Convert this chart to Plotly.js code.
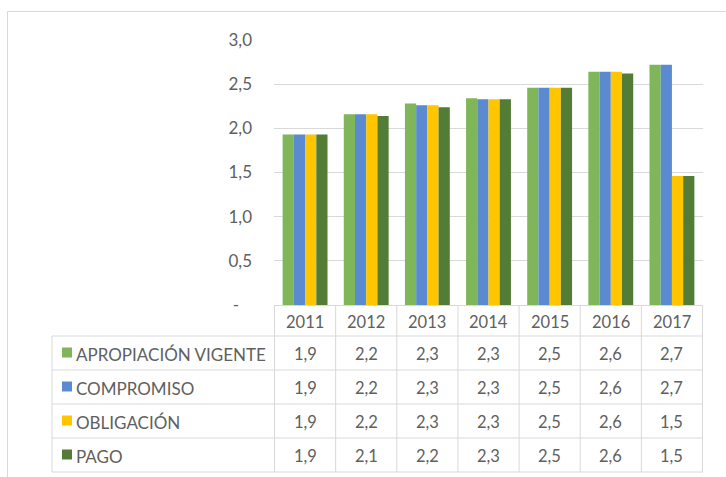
<!DOCTYPE html>
<html><head><meta charset="utf-8">
<script src="https://cdn.plot.ly/plotly-3.0.1.min.js"></script>
<style>html,body{margin:0;padding:0;background:#fff;} #chart{width:726px;height:477px;}</style>
</head><body><div id="chart"></div>
<script>
const years = ['2011','2012','2013','2014','2015','2016','2017'];
const seriesNames = ['APROPIACIÓN VIGENTE','COMPROMISO','OBLIGACIÓN','PAGO'];
const apropiacion = [1.93,2.16,2.28,2.34,2.46,2.64,2.72];
const compromiso  = [1.93,2.16,2.26,2.33,2.46,2.64,2.72];
const obligacion  = [1.93,2.16,2.26,2.33,2.46,2.64,1.46];
const pago        = [1.93,2.14,2.24,2.33,2.46,2.62,1.46];
const yTickVals = [0,0.5,1,1.5,2,2.5,3];
const yTickText = ['-\u00a0\u00a0\u00a0','0,5','1,0','1,5','2,0','2,5','3,0'];

const seriesValues = [apropiacion, compromiso, obligacion, pago];
const colors = ['#7FB65A','#5A8AD0','#FFC600','#537C36'];
const FONT = 'Lato, Carlito, "Open Sans", sans-serif';
const TXT = '#606060';
const GRID = '#D9D9D9';

const W = 726, H = 477, L = 274, R = 703, T = 40, B = 305;
const px2x = px => (px - L) / (R - L);
const py2y = py => (B - py) / (B - T);

const traces = seriesValues.map((vals, i) => ({
  type: 'bar', x: years, y: vals, name: seriesNames[i],
  marker: {color: colors[i], line: {width: 0}},
  hoverinfo: 'none'
}));

// table geometry
const tableLeft = 52, headerTop = B, headerBottom = 336, rowH = 34;
const rowTops = seriesNames.map((_, i) => headerBottom + i * rowH);
const tableBottom = headerBottom + seriesNames.length * rowH;

const shapes = [];
const lineStyle = {color: GRID, width: 1};
// outer chart border (left and top)
shapes.push({type: 'line', xref: 'paper', yref: 'paper', x0: px2x(7.5), x1: px2x(7.5), y0: py2y(11.5), y1: py2y(H + 5), line: lineStyle});
shapes.push({type: 'line', xref: 'paper', yref: 'paper', x0: px2x(7.5), x1: px2x(W + 5), y0: py2y(11.5), y1: py2y(11.5), line: lineStyle});
// vertical lines for year columns
for (let i = 0; i <= years.length; i++) {
  shapes.push({type: 'line', xref: 'x', yref: 'paper', x0: i - 0.5, x1: i - 0.5, y0: py2y(headerTop), y1: py2y(tableBottom), line: lineStyle});
}
// table left border
shapes.push({type: 'line', xref: 'paper', yref: 'paper', x0: px2x(tableLeft), x1: px2x(tableLeft), y0: py2y(headerBottom), y1: py2y(tableBottom), line: lineStyle});
// horizontal lines
for (let r = 0; r <= seriesNames.length; r++) {
  const py = headerBottom + r * rowH;
  shapes.push({type: 'line', xref: 'paper', yref: 'paper', x0: px2x(tableLeft), x1: 1, y0: py2y(py), y1: py2y(py), line: lineStyle});
}
// legend keys
seriesNames.forEach((n, i) => {
  const cy = rowTops[i] + rowH / 2;
  shapes.push({type: 'rect', xref: 'paper', yref: 'paper', x0: px2x(62), x1: px2x(72), y0: py2y(cy - 5.5), y1: py2y(cy + 4.5), fillcolor: colors[i], line: {width: 0}});
});

const annotations = [];
const f = {family: FONT, size: 16.5, color: TXT};
const fl = {family: FONT, size: 17, color: TXT};
years.forEach((yr, j) => {
  annotations.push({xref: 'x', yref: 'paper', x: j, y: py2y((headerTop + headerBottom) / 2 + 1), text: yr, showarrow: false, font: f, xanchor: 'center', yanchor: 'middle'});
});
seriesNames.forEach((n, i) => {
  const cy = rowTops[i] + rowH / 2 + 1;
  annotations.push({xref: 'paper', yref: 'paper', x: px2x(74), y: py2y(cy), text: n, showarrow: false, font: fl, xanchor: 'left', yanchor: 'middle'});
  seriesValues[i].forEach((v, j) => {
    annotations.push({xref: 'x', yref: 'paper', x: j, y: py2y(cy), text: v.toFixed(1).replace('.', ','), showarrow: false, font: f, xanchor: 'center', yanchor: 'middle'});
  });
});

const layout = {
  width: W, height: H,
  margin: {l: L, r: W - R, t: T, b: H - B, pad: 0},
  paper_bgcolor: '#fff', plot_bgcolor: '#fff',
  showlegend: false,
  barmode: 'group', bargap: 0.266, bargroupgap: 0,
  font: {family: FONT, color: TXT},
  xaxis: {type: 'category', showticklabels: false, ticks: '', showgrid: false, zeroline: false,
          showline: true, linecolor: GRID, linewidth: 1, fixedrange: true},
  yaxis: {range: [0, 3], tickvals: yTickVals, ticktext: yTickText, showgrid: true, gridcolor: GRID, gridwidth: 1,
          zeroline: false, showline: false, ticks: '', ticklabelstandoff: 21,
          tickfont: {family: FONT, size: 17, color: TXT}, fixedrange: true},
  shapes: shapes,
  annotations: annotations
};

Plotly.newPlot('chart', traces, layout, {displayModeBar: false, staticPlot: true});
</script>
</body></html>
